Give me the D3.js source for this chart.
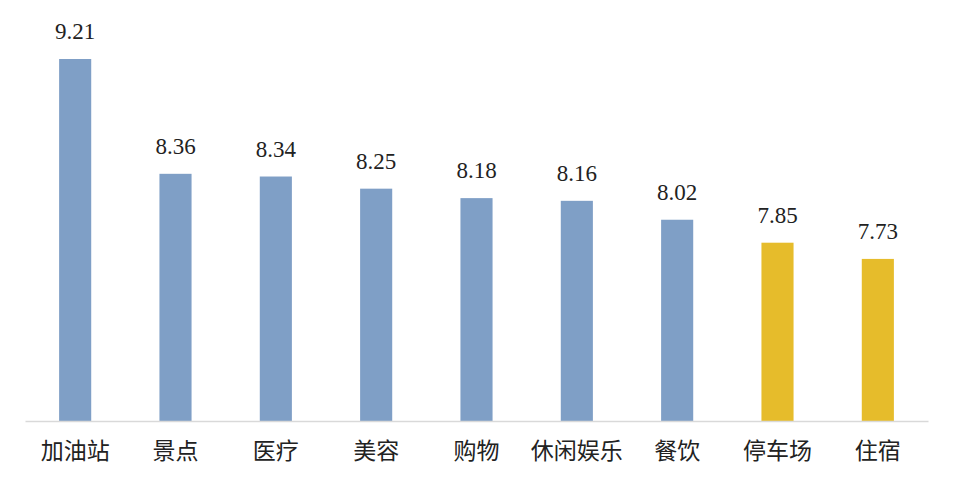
<!DOCTYPE html>
<html>
<head>
<meta charset="utf-8">
<script src="https://cdn.jsdelivr.net/npm/d3@7"></script>
<style>
  body { margin: 0; background: #fff; }
</style>
</head>
<body>
<svg id="chart"></svg>
<script>
// Data
const categories = ["加油站", "景点", "医疗", "美容", "购物", "休闲娱乐", "餐饮", "停车场", "住宿"];
const values = [9.21, 8.36, 8.34, 8.25, 8.18, 8.16, 8.02, 7.85, 7.73];
const highlighted = ["停车场", "住宿"];

const width = 955;
const height = 489;

const svg = d3.select("#chart")
    .attr("width", width)
    .attr("height", height);

// x scale: one band per category
const x = d3.scaleBand()
    .domain(categories)
    .range([25, 928])
    .paddingInner(0.68)
    .paddingOuter(0.34);

// y scale: axis does not start at zero
const y = d3.scaleLinear()
    .domain([6.53, 9.21])
    .range([421, 59]);

const data = categories.map((c, i) => ({ name: c, value: values[i] }));

// bars
svg.selectAll("rect.bar")
    .data(data)
    .enter()
    .append("rect")
    .attr("class", "bar")
    .attr("x", d => x(d.name))
    .attr("y", d => y(d.value))
    .attr("width", x.bandwidth())
    .attr("height", d => y.range()[0] - y(d.value))
    .attr("fill", d => highlighted.includes(d.name) ? "#e6bc2b" : "#7f9fc6");

// value labels (Times-like serif)
const valueText = svg.append("g")
    .attr("font-family", "Liberation Serif")
    .style("font-family", '"Liberation Serif"');

valueText.selectAll("text")
    .data(data)
    .enter()
    .append("text")
    .attr("x", d => x(d.name) + x.bandwidth() / 2)
    .attr("y", d => y(d.value) - 20)
    .attr("text-anchor", "middle")
    .attr("font-family", "Liberation Serif")
    .style("font-family", '"Liberation Serif"')
    .attr("font-size", 23)
    .attr("fill", "#222")
    .text(d => d.value.toFixed(2));

// x axis: thin grey line, no ticks
const xAxis = svg.append("g")
    .attr("transform", `translate(0, ${y.range()[0]})`)
    .call(d3.axisBottom(x).tickSize(0).tickPadding(22));

xAxis.select(".domain")
    .attr("stroke", "#d9d9d9")
    .attr("stroke-width", 1.5);

xAxis.selectAll("text")
    .style("font-family", '"Noto Sans CJK SC"')
    .attr("font-size", 23)
    .attr("fill", "#222");
</script>
</body>
</html>
